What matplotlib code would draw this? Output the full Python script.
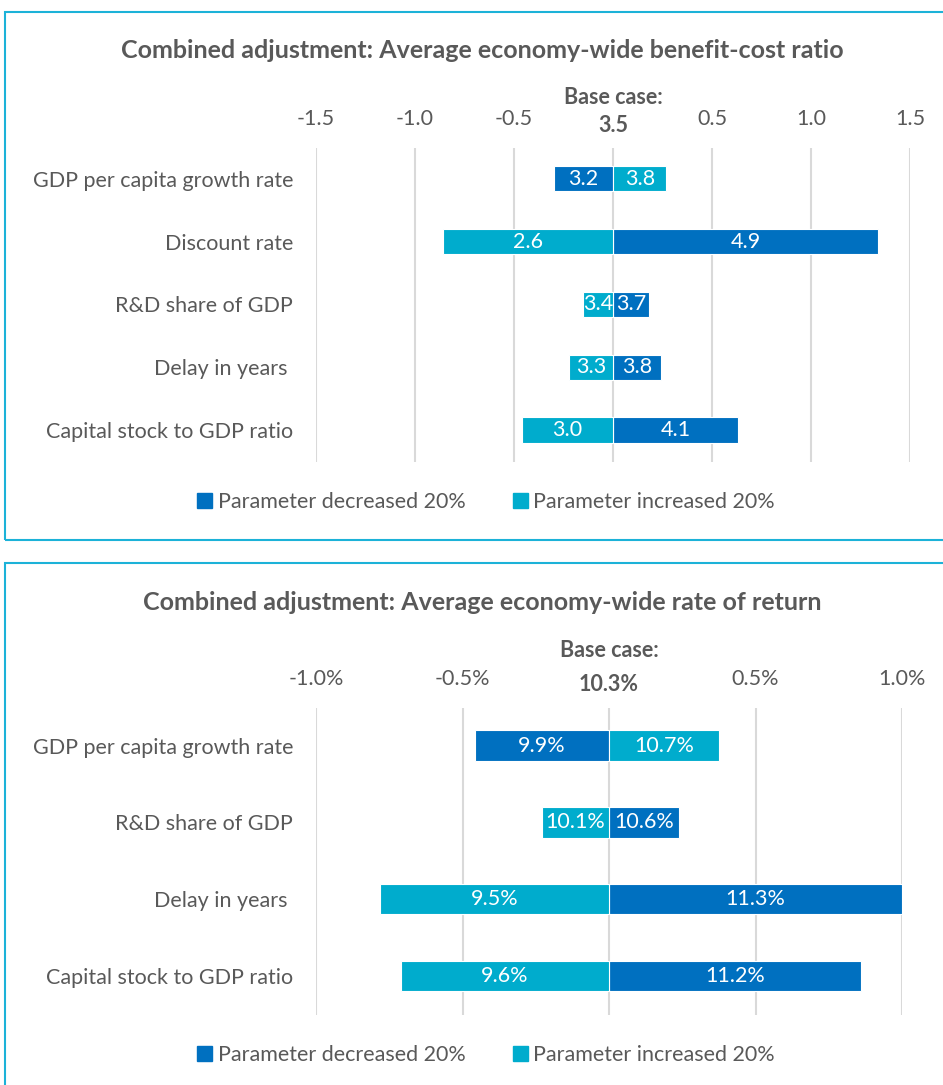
import matplotlib
matplotlib.use("Agg")
import matplotlib.pyplot as plt
from matplotlib.patches import Rectangle, Patch

# ---- data: benefit-cost ratio (deltas from base case) ----
bcr_params = ["GDP per capita growth rate", "Discount rate", "R&D share of GDP",
              "Delay in years ", "Capital stock to GDP ratio"]
bcr_base = "3.5"
bcr_dec = [-0.30, 1.34, 0.18, 0.24, 0.63]      # parameter decreased 20%
bcr_inc = [0.27, -0.86, -0.15, -0.22, -0.46]   # parameter increased 20%
bcr_dec_lbl = ["3.2", "4.9", "3.7", "3.8", "4.1"]
bcr_inc_lbl = ["3.8", "2.6", "3.4", "3.3", "3.0"]
bcr_ticks = [-1.5, -1.0, -0.5, 0.0, 0.5, 1.0, 1.5]
bcr_ticklabels = ["-1.5", "-1.0", "-0.5", "", "0.5", "1.0", "1.5"]

# ---- data: rate of return (percentage-point deltas from base case) ----
ror_params = ["GDP per capita growth rate", "R&D share of GDP", "Delay in years ",
              "Capital stock to GDP ratio"]
ror_base = "10.3%"
ror_dec = [-0.457, 0.24, 1.0, 0.86]
ror_inc = [0.375, -0.23, -0.78, -0.71]
ror_dec_lbl = ["9.9%", "10.6%", "11.3%", "11.2%"]
ror_inc_lbl = ["10.7%", "10.1%", "9.5%", "9.6%"]
ror_ticks = [-1.0, -0.5, 0.0, 0.5, 1.0]
ror_ticklabels = ["-1.0%", "-0.5%", "", "0.5%", "1.0%"]

DARK = "#0070C0"
LIGHT = "#00ACCD"
GREY = "#595959"
GRID = "#D9D9D9"
BORDER = "#1CB2D8"
FS = 15.5

plt.rcParams["font.family"] = ["Lato", "DejaVu Sans"]

W, H = 943, 1085
fig = plt.figure(figsize=(W / 100, H / 100), dpi=100)


def px_axes(x0, y0, x1, y1):
    return fig.add_axes([x0 / W, 1 - y1 / H, (x1 - x0) / W, (y1 - y0) / H])


def tornado(ax, params, dec, inc, dec_lbl, inc_lbl, ticks, ticklabels, base,
            title, title_y, base_y):
    ys = list(range(len(params)))
    b1 = ax.barh(ys, dec, height=0.4, color=DARK, edgecolor="white", linewidth=0.8, zorder=3)
    b2 = ax.barh(ys, inc, height=0.4, color=LIGHT, edgecolor="white", linewidth=0.8, zorder=3)
    ax.bar_label(b1, labels=dec_lbl, label_type="center", color="white", fontsize=FS)
    ax.bar_label(b2, labels=inc_lbl, label_type="center", color="white", fontsize=FS)
    ax.set_xlim(ticks[0], ticks[-1])
    ax.set_ylim(len(params) - 0.49, -0.49)
    ax.set_yticks(ys)
    ax.set_yticklabels(params)
    ax.set_xticks(ticks)
    ax.set_xticklabels(ticklabels)
    ax.xaxis.tick_top()
    ax.tick_params(axis="x", length=0, pad=14, labelsize=FS, labelcolor=GREY)
    ax.tick_params(axis="y", length=0, pad=16.5, labelsize=FS, labelcolor=GREY)
    ax.grid(True, axis="x", color=GRID, lw=1.5, zorder=0)
    for s in ax.spines.values():
        s.set_visible(False)
    tr = ax.get_xaxis_transform()
    ax.text(0, base_y[0], "Base case:", transform=tr, ha="center", va="center",
            fontsize=FS, fontweight="bold", color=GREY)
    ax.text(0, base_y[1], base, transform=tr, ha="center", va="center",
            fontsize=FS, fontweight="bold", color=GREY)
    fig.text(482 / W, 1 - title_y / H, title, ha="center", va="center",
             fontsize=18, fontweight="bold", color=GREY)


ax1 = px_axes(316, 148, 910, 462)
tornado(ax1, bcr_params, bcr_dec, bcr_inc, bcr_dec_lbl, bcr_inc_lbl, bcr_ticks,
        bcr_ticklabels, bcr_base,
        "Combined adjustment: Average economy-wide benefit-cost ratio", 50, (1.162, 1.073))

ax2 = px_axes(316, 708, 902, 1015)
tornado(ax2, ror_params, ror_dec, ror_inc, ror_dec_lbl, ror_inc_lbl, ror_ticks,
        ror_ticklabels, ror_base,
        "Combined adjustment: Average economy-wide rate of return", 603, (1.186, 1.078))

# legends
handles = [Patch(color=DARK, label="Parameter decreased 20%"),
           Patch(color=LIGHT, label="Parameter increased 20%")]
for ly in (502, 1055):
    fig.legend(handles=handles, loc="center", bbox_to_anchor=(486 / W, 1 - ly / H),
               ncol=2, frameon=False, fontsize=FS, labelcolor=GREY,
               handlelength=0.7, handleheight=0.7, handletextpad=0.25, columnspacing=2.2)

# panel borders
for (x0, y0, x1, y1) in ((5, 12, 960, 540), (5, 563, 960, 1100)):
    fig.add_artist(Rectangle((x0 / W, 1 - y1 / H), (x1 - x0) / W, (y1 - y0) / H,
                             transform=fig.transFigure, fill=False, edgecolor=BORDER, lw=1.5))

fig.savefig("out.png", dpi=100)
